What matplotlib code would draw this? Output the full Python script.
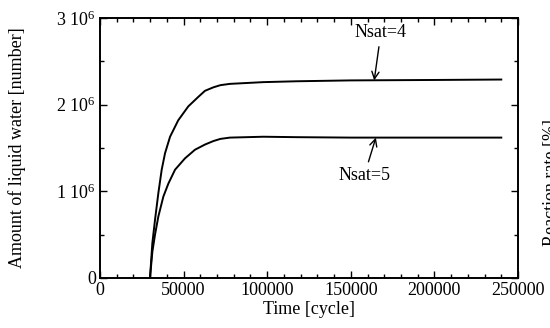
import numpy as np
import matplotlib
matplotlib.use("Agg")
import matplotlib.pyplot as plt
from matplotlib.ticker import MultipleLocator, FixedLocator

plt.rcParams['font.family'] = ['Liberation Serif', 'DejaVu Serif']
plt.rcParams['mathtext.fontset'] = 'custom'
plt.rcParams['mathtext.rm'] = 'Liberation Serif'
plt.rcParams['mathtext.it'] = 'Liberation Serif:italic'

# values (time in cycles, water in units of 1e6)
t4 = [29900, 31300, 32900, 34900, 36900, 38900, 41900, 46800, 52800, 58800, 62800,
      67800, 72000, 77700, 97700, 117600, 150000, 200000, 240000]
w4 = [0.0, 0.40, 0.67, 0.98, 1.25, 1.44, 1.63, 1.82, 1.98, 2.09, 2.16,
      2.20, 2.225, 2.24, 2.26, 2.27, 2.28, 2.285, 2.29]
t5 = [29900, 31300, 32900, 34900, 37900, 40900, 44900, 50800, 56800, 62800,
      67800, 72000, 77700, 97700, 117600, 150000, 200000, 240000]
w5 = [0.0, 0.30, 0.50, 0.71, 0.94, 1.09, 1.25, 1.38, 1.48, 1.54,
      1.58, 1.605, 1.62, 1.63, 1.625, 1.62, 1.62, 1.62]

yticks = [0, 1e6, 2e6, 3e6]
ylabels = ['0', '1 10$^{6}$', '2 10$^{6}$', '3 10$^{6}$']
xticks = [0, 50000, 100000, 150000, 200000, 250000]

fig = plt.figure(figsize=(5.5, 3.28), dpi=100)
ax = fig.add_axes([100/550, 50/328, 418/550, 260/328])

ax.plot(t4, np.array(w4) * 1e6, color='black', lw=1.4)
ax.plot(t5, np.array(w5) * 1e6, color='black', lw=1.4)

ax.set_xlim(0, 250000)
ax.set_ylim(0, 3e6)
ax.xaxis.set_major_locator(FixedLocator(xticks))
ax.set_xticklabels([str(v) for v in xticks])
ax.xaxis.set_minor_locator(MultipleLocator(10000))
ax.yaxis.set_major_locator(FixedLocator(yticks))
ax.set_yticklabels(ylabels)
ax.yaxis.set_minor_locator(MultipleLocator(0.5e6))

ax.tick_params(which='both', direction='in', top=True, right=True, labelsize=13, width=1.0)
ax.tick_params(which='major', length=5, pad=3)
ax.tick_params(which='minor', length=3)
for s in ax.spines.values():
    s.set_linewidth(1.4)

ax.set_xlabel('Time [cycle]', fontsize=13, labelpad=1)
ax.set_ylabel('Amount of liquid water [number]', fontsize=13, labelpad=22)

ax.annotate('Nsat=4', xy=(164000, 2.28e6), xytext=(168000, 2.83e6), fontsize=13,
            ha='center', va='center',
            arrowprops=dict(arrowstyle='->', color='black', lw=1.0, shrinkA=2, shrinkB=0))
ax.annotate('Nsat=5', xy=(165000, 1.62e6), xytext=(158000, 1.18e6), fontsize=13,
            ha='center', va='center',
            arrowprops=dict(arrowstyle='->', color='black', lw=1.0, shrinkA=2, shrinkB=0))

# right-hand label is cut off at the figure edge in the original
fig.text(543/550, 1 - 182/328, 'Reaction rate [%]', rotation=90, fontsize=13,
         ha='left', va='center')

fig.savefig('out.png', dpi=100)
